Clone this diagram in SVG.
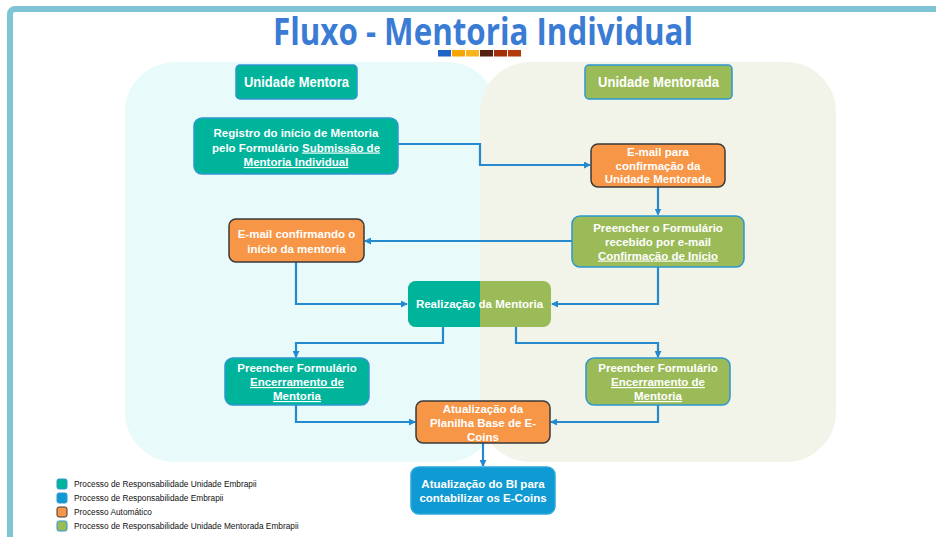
<svg xmlns="http://www.w3.org/2000/svg" width="936" height="537" viewBox="0 0 936 537">
<style>
.t{font-family:"Liberation Sans",Arial,sans-serif;font-weight:bold;font-size:11.5px;fill:#fff;text-anchor:middle}
.h{font-family:"Liberation Sans",Arial,sans-serif;font-weight:bold;font-size:14.5px;fill:#fff;text-anchor:middle}
.u{text-decoration:underline}
.teal{fill:#00B49C;stroke:#2C97CF;stroke-width:1.5}
.green{fill:#9BBB59;stroke:#2C97CF;stroke-width:1.5}
.orange{fill:#F79646;stroke:#3A3A3A;stroke-width:1.5}
.blue{fill:#0F9AD3;stroke:#2AA6DC;stroke-width:1.5}
.c{fill:none;stroke:#2589CF;stroke-width:2.2;marker-end:url(#ah)}
.lg{font-family:"Liberation Sans",Arial,sans-serif;font-size:8.3px;fill:#111}
</style>
<defs>
<marker id="ah" markerUnits="userSpaceOnUse" markerWidth="7" markerHeight="7" refX="6" refY="3.5" orient="auto">
<path d="M0,0 L7,3.5 L0,7 Z" fill="#2589CF"/>
</marker>
</defs>
<rect x="0" y="0" width="936" height="537" fill="#fff"/>
<rect x="10" y="9" width="960" height="560" rx="5" fill="#fff" stroke="#7EC4D6" stroke-width="6"/>
<g id="title">
<text x="483" y="45" font-family="'Open Sans','Noto Sans',sans-serif" font-weight="700" font-size="37" fill="#3A7CD4" text-anchor="middle" textLength="420" lengthAdjust="spacingAndGlyphs">Fluxo - Mentoria Individual</text>
<rect x="438" y="50" width="13" height="6.5" fill="#1E64C8"/>
<rect x="452" y="50" width="13" height="6.5" fill="#F7A600"/>
<rect x="466" y="50" width="13" height="6.5" fill="#F9B420"/>
<rect x="480" y="50" width="13" height="6.5" fill="#55200F"/>
<rect x="494" y="50" width="13" height="6.5" fill="#A4300A"/>
<rect x="508" y="50" width="13" height="6.5" fill="#B23A0C"/>
</g>
<g id="panels">
<rect x="125" y="62" width="372" height="400" rx="50" fill="#E8FBFA"/>
<rect x="480" y="62" width="356" height="400" rx="50" fill="#F2F4EA"/>
</g>
<g id="connectors">
<path class="c" d="M398,144 H480 V165 H590"/>
<path class="c" d="M658,187 V214.5"/>
<path class="c" d="M572,241 H365"/>
<path class="c" d="M296,262 V304 H407"/>
<path class="c" d="M658,267 V304 H552"/>
<path class="c" d="M443,327 V343 H296 V357"/>
<path class="c" d="M516,327 V343 H658 V357"/>
<path class="c" d="M296,405 V422 H415"/>
<path class="c" d="M658,405 V422 H551"/>
<path class="c" d="M483,443 V466"/>
</g>
<g id="hdr-mentora">
<rect class="teal" x="236" y="65" width="121" height="34" rx="4"/>
<text class="h" x="296.5" y="87" textLength="105" lengthAdjust="spacingAndGlyphs">Unidade Mentora</text>
</g>
<g id="hdr-mentorada">
<rect class="green" x="585" y="65" width="147" height="34" rx="4"/>
<text class="h" x="658.5" y="87" textLength="121" lengthAdjust="spacingAndGlyphs">Unidade Mentorada</text>
</g>
<g id="n-registro">
<rect class="teal" x="194" y="118" width="204" height="56" rx="8"/>
<text class="t" x="296" y="137">Registro do início de Mentoria</text>
<text class="t" x="296" y="151.5">pelo Formulário <tspan class="u">Submissão de</tspan></text>
<text class="t" x="296" y="166"><tspan class="u">Mentoria Individual</tspan></text>
</g>
<g id="n-email-conf">
<rect class="orange" x="591" y="144" width="134" height="43" rx="7"/>
<text class="t" x="658" y="156">E-mail para</text>
<text class="t" x="658" y="169.5">confirmação da</text>
<text class="t" x="658" y="183">Unidade Mentorada</text>
</g>
<g id="n-preencher-inicio">
<rect class="green" x="572" y="216" width="172" height="51" rx="8"/>
<text class="t" x="658" y="231.5">Preencher o Formulário</text>
<text class="t" x="658" y="245.5">recebido por e-mail</text>
<text class="t" x="658" y="259.5"><tspan class="u">Confirmação de Início</tspan></text>
</g>
<g id="n-email-inicio">
<rect class="orange" x="229" y="219" width="135" height="43" rx="7"/>
<text class="t" x="296.5" y="238">E-mail confirmando o</text>
<text class="t" x="296.5" y="252.5">início da mentoria</text>
</g>
<g id="n-realizacao">
<rect x="408" y="281" width="143" height="46" rx="8" fill="#9BBB59"/>
<path d="M480,281 H416 A8,8 0 0 0 408,289 V319 A8,8 0 0 0 416,327 H480 Z" fill="#00B49C"/>
<text class="t" x="479.5" y="308">Realização da Mentoria</text>
</g>
<g id="n-encerramento-l">
<rect class="teal" x="225" y="358" width="144" height="47" rx="8"/>
<text class="t" x="297" y="372">Preencher Formulário</text>
<text class="t" x="297" y="386"><tspan class="u">Encerramento de</tspan></text>
<text class="t" x="297" y="400"><tspan class="u">Mentoria</tspan></text>
</g>
<g id="n-encerramento-r">
<rect class="green" x="586" y="358" width="144" height="47" rx="8"/>
<text class="t" x="658" y="372">Preencher Formulário</text>
<text class="t" x="658" y="386"><tspan class="u">Encerramento de</tspan></text>
<text class="t" x="658" y="400"><tspan class="u">Mentoria</tspan></text>
</g>
<g id="n-planilha">
<rect class="orange" x="416" y="401" width="134" height="42" rx="7"/>
<text class="t" x="483" y="413">Atualização da</text>
<text class="t" x="483" y="427">Planilha Base de E-</text>
<text class="t" x="483" y="441">Coins</text>
</g>
<g id="n-bi">
<rect class="blue" x="411" y="467" width="144" height="47" rx="8"/>
<text class="t" x="483" y="488">Atualização do BI para</text>
<text class="t" x="483" y="502">contabilizar os E-Coins</text>
</g>
<g id="legend">
<rect x="57" y="479" width="10" height="10" rx="2" fill="#00B49C" stroke="#2C97CF" stroke-width="1"/>
<text class="lg" x="74" y="487">Processo de Responsabilidade Unidade Embrapii</text>
<rect x="57" y="493" width="10" height="10" rx="2" fill="#0F9AD3" stroke="#2C97CF" stroke-width="1"/>
<text class="lg" x="74" y="501">Processo de Responsabilidade Embrapii</text>
<rect x="57" y="507" width="10" height="10" rx="2" fill="#F79646" stroke="#3A3A3A" stroke-width="1"/>
<text class="lg" x="74" y="515">Processo Automático</text>
<rect x="57" y="521" width="10" height="10" rx="2" fill="#9BBB59" stroke="#2C97CF" stroke-width="1"/>
<text class="lg" x="74" y="529">Processo de Responsabilidade Unidade Mentorada Embrapii</text>
</g>
</svg>
